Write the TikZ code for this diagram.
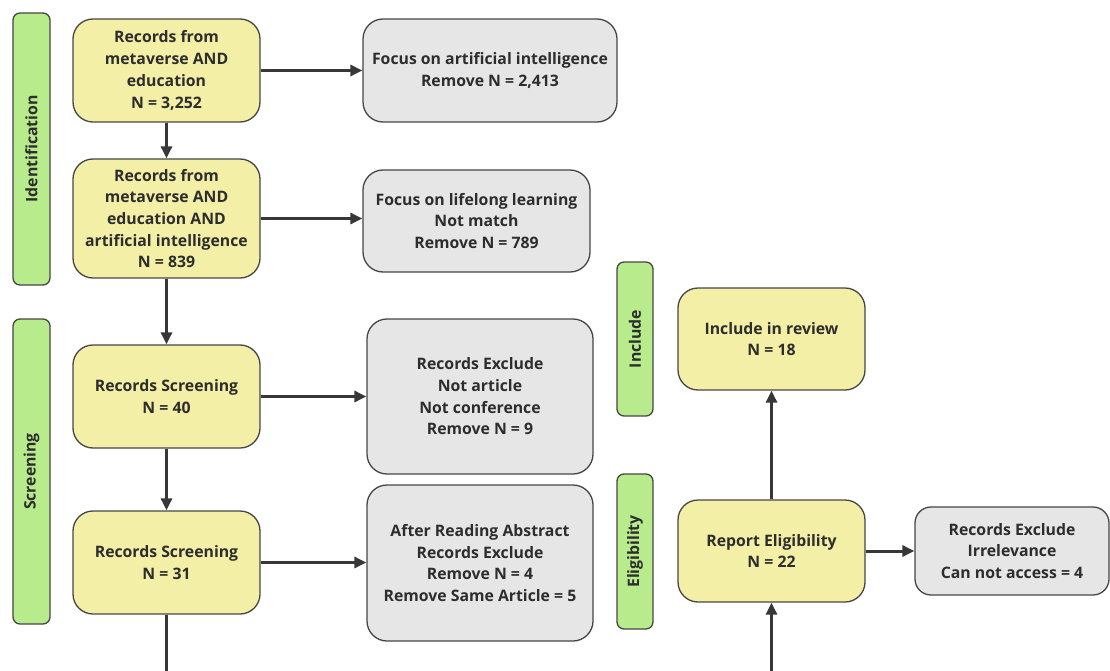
\documentclass[tikz,border=0pt]{standalone}
\usepackage{fontspec}
\setmainfont{Open Sans}
\usetikzlibrary{arrows.meta}
\definecolor{yel}{RGB}{243,239,166}
\definecolor{grn}{RGB}{184,235,140}
\definecolor{gry}{RGB}{230,230,230}
\definecolor{edge}{RGB}{70,70,70}
\definecolor{ink}{RGB}{45,45,45}
\definecolor{wire}{RGB}{55,55,55}
\tikzset{
  base/.style={draw=edge, line width=1.3pt, align=center, inner sep=0pt, text=ink,
    font=\fontsize{15.8}{21.7}\selectfont\bfseries},
  ybox/.style={base, fill=yel, rounded corners=20pt},
  gbox/.style={base, fill=gry, rounded corners=20pt},
  phase/.style={base, fill=grn, rounded corners=7pt, rotate=90},
  arr/.style={draw=wire, line width=3pt, -{Triangle[length=12pt,width=11pt]}}
}
\begin{document}
\begin{tikzpicture}[x=1pt,y=-1pt]
\useasboundingbox (0,0) rectangle (1110,671);
% phase labels
\node[phase, minimum width=272, minimum height=37] (pid) at (31.5,149) {Identification};
\node[phase, minimum width=305, minimum height=37] (psc) at (31.5,471.5) {Screening};
\node[phase, minimum width=154, minimum height=36] (pin) at (635,339) {Include};
\node[phase, minimum width=155, minimum height=36] (pel) at (635,551.5) {Eligibility};
% yellow boxes
\node[ybox, minimum width=187, minimum height=103] (A) at (166.5,70.5) {Records from\\metaverse AND\\education\\N = 3,252};
\node[ybox, minimum width=187, minimum height=119] (B) at (166.5,218.5) {Records from\\metaverse AND\\education AND\\artificial intelligence\\N = 839};
\node[ybox, minimum width=187, minimum height=103] (C) at (166.5,396.5) {Records Screening\\N = 40};
\node[ybox, minimum width=187, minimum height=103] (D) at (166.5,562.5) {Records Screening\\N = 31};
\node[ybox, minimum width=187, minimum height=102] (E) at (771.5,339) {Include in review\\N = 18};
\node[ybox, minimum width=187, minimum height=102] (F) at (771.5,551) {Report Eligibility\\N = 22};
% grey boxes
\node[gbox, minimum width=254, minimum height=103] (G1) at (490,70.5) {Focus on artificial intelligence\\Remove N = 2,413};
\node[gbox, minimum width=227, minimum height=102] (G2) at (476.5,221) {Focus on lifelong learning\\Not match\\Remove N = 789};
\node[gbox, minimum width=226, minimum height=155] (G3) at (480,396.5) {Records Exclude\\Not article\\Not conference\\Remove N = 9};
\node[gbox, minimum width=226, minimum height=156] (G4) at (480,563) {After Reading Abstract\\Records Exclude\\Remove N = 4\\Remove Same Article = 5};
\node[gbox, minimum width=194, minimum height=88, rounded corners=16pt] (G5) at (1012,551) {Records Exclude\\Irrelevance\\Can not access = 4};
% connectors
\draw[arr] (A.east) -- (A.east -| G1.west);
\draw[arr] (B.east) -- (B.east -| G2.west);
\draw[arr] (C.east) -- (C.east -| G3.west);
\draw[arr] (D.east) -- (D.east -| G4.west);
\draw[arr] (F.east) -- (F.east -| G5.west);
\draw[arr] (A.south) -- (B.north);
\draw[arr] (B.south) -- (C.north);
\draw[arr] (C.south) -- (D.north);
\draw[arr] (F.north) -- (E.south);
\coordinate (bot) at (166.5,673);
\draw[arr] (D.south) -- (bot) -| (F.south);
\end{tikzpicture}
\end{document}
